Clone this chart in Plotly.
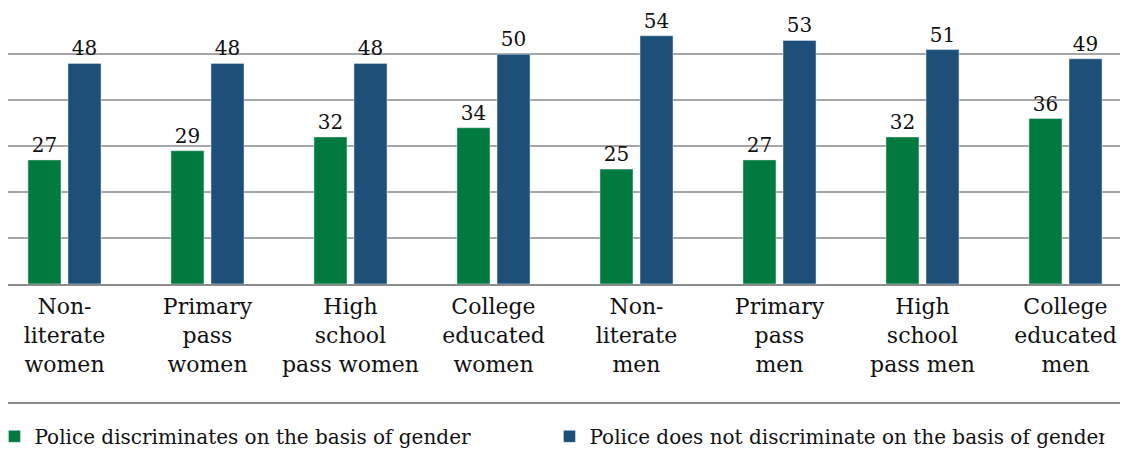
import plotly.graph_objects as go

categories = [
    "Non-<br>literate<br>women",
    "Primary<br>pass<br>women",
    "High<br>school<br>pass women",
    "College<br>educated<br>women",
    "Non-<br>literate<br>men",
    "Primary<br>pass<br>men",
    "High<br>school<br>pass men",
    "College<br>educated<br>men",
]
discriminates = [27, 29, 32, 34, 25, 27, 32, 36]
does_not = [48, 48, 48, 50, 54, 53, 51, 49]

series_names = [
    "Police discriminates on the basis of gender",
    "Police does not discriminate on the basis of gender",
]

FONT = "DejaVu Serif"
GREEN = "#007A3E"
BLUE = "#1D4F78"

fig = go.Figure()
for vals, name, col in [(discriminates, series_names[0], GREEN), (does_not, series_names[1], BLUE)]:
    fig.add_trace(go.Bar(
        x=categories, y=vals, name=name, marker_color=col,
        text=vals, textposition="outside",
        textfont=dict(size=20, color="#111111", family=FONT), cliponaxis=False,
    ))

fig.update_layout(
    width=1128, height=463,
    margin=dict(l=0, r=0, t=0, b=187, autoexpand=False),
    barmode="group", bargap=0.44, bargroupgap=0.175,
    plot_bgcolor="white", paper_bgcolor="white",
    font=dict(family=FONT, size=22, color="#111111"),
    showlegend=True,
    legend=dict(
        orientation="h", x=-0.012, xanchor="left", y=-0.552, yanchor="middle",
        font=dict(size=20, family=FONT), entrywidth=510, entrywidthmode="pixels",
        itemwidth=30,
    ),
)
fig.update_xaxes(
    range=[-0.395, 7.493], showline=True, linecolor="#8C8C8C", linewidth=2,
    showgrid=False, ticks="", tickfont=dict(size=22, family=FONT), automargin=False,
    ticklabelstandoff=2,
)
fig.update_yaxes(
    range=[0, 60.05], dtick=10, showgrid=True, gridcolor="#A6A6A6", gridwidth=1.5,
    showticklabels=False, zeroline=False, automargin=False,
)
fig.add_shape(
    type="line", xref="paper", yref="paper", x0=0, x1=1, y0=-0.431, y1=-0.431,
    line=dict(color="#8C8C8C", width=2),
)

fig.write_html("out.html")
